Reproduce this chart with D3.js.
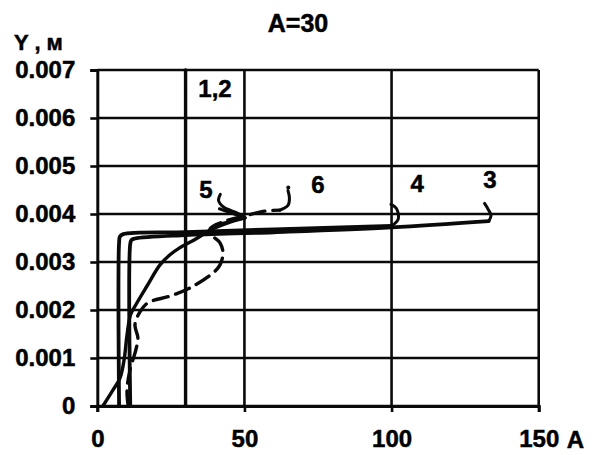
<!DOCTYPE html>
<html>
<head>
<meta charset="utf-8">
<script src="https://cdn.jsdelivr.net/npm/d3@7"></script>
<style>
  html, body { margin: 0; padding: 0; background: #fff; }
  svg { display: block; }
  text { font-family: "Liberation Sans", Arial, sans-serif; font-weight: bold; fill: #000; stroke: #000; stroke-width: 0.5px; }
</style>
</head>
<body>
<svg id="chart" width="597" height="455"></svg>
<script>
// Axis ticks
const xTicks = [0, 50, 100, 150];
const yTicks = [0, 0.001, 0.002, 0.003, 0.004, 0.005, 0.006, 0.007];

// Curves 1,2 (coincident vertical line at A = 30)
const curve12 = [[30, 0], [30, 0.007]];

// Curve 4: vertical rise, then nearly flat run to A ≈ 100
const curve4 = [[7.4, 0], [7.4, 0.0034], [7.7, 0.00353], [8.8, 0.00358], [30, 0.00362], [60, 0.00368], [100, 0.00375]];
// Curve 3: vertical rise, then nearly flat run to A ≈ 133
const curve3 = [[11.2, 0], [11.2, 0.00338], [11.6, 0.00346], [12.8, 0.00349], [30, 0.00356], [60, 0.00362], [100, 0.00372], [133, 0.00385]];

// Curve 5: smooth rise
const curve5 = [[1.9, 0], [5.3, 0.00033], [7.7, 0.00058], [9.1, 0.00096], [10.1, 0.00148], [11.3, 0.0019],
  [13.2, 0.00212], [16.9, 0.0025], [21.3, 0.00294], [24.7, 0.00315], [28.1, 0.0033], [33.2, 0.00347],
  [38.3, 0.00366], [45.1, 0.00383], [50.2, 0.00392]];

// Curve 6 (dashed)
const curve6 = [[10.5, 0], [10.1, 0.00033], [11.1, 0.00075], [13.1, 0.00117], [13.8, 0.00142], [12.8, 0.00169],
  [14.5, 0.00196], [17.2, 0.00215], [24.7, 0.00229], [31.5, 0.00246], [39.3, 0.00277], [41.7, 0.00294],
  [42.7, 0.00319], [41.7, 0.0034], [39.3, 0.00354], [38.3, 0.00369], [43.4, 0.00385], [50.2, 0.00396],
  [57, 0.00406], [62, 0.00408]];

// Hand-drawn leaders from curve ends to their numbers
const leader4 = [[100, 0.00375], [102.3, 0.0039], [101.6, 0.00412], [99.8, 0.0042]];
const leader3 = [[133, 0.00385], [133.8, 0.00397], [132.8, 0.0041], [131.6, 0.00422]];
const leader5 = [[50.2, 0.00392], [47.6, 0.00402], [43, 0.00414], [41.2, 0.00428], [41.8, 0.00441]];
const arrow5 = [[41.5, 0.00411], [50.2, 0.00392], [41.6, 0.00379]];
const leader6 = [[62, 0.00408], [64.8, 0.00418], [65.3, 0.00433], [64.8, 0.00449]];
const dot6 = [64.9, 0.00455];

// Curve labels: [text, A, Y]
const labels = [["1,2", 40, 0.00644], ["5", 36.9, 0.00433], ["6", 75, 0.00444], ["4", 108.7, 0.00446], ["3", 133.4, 0.00454]];

const svg = d3.select("#chart");
const W = 597, H = 455;
const margin = { left: 97.3, right: 58.3, top: 70, bottom: 49 };

const x = d3.scaleLinear().domain([0, 150]).range([margin.left, W - margin.right]);
const y = d3.scaleLinear().domain([0, 0.007]).range([H - margin.bottom, margin.top]);

const ink = "#0a0a0a";
const font = "'Liberation Sans', Arial, sans-serif";

// Grid
const grid = svg.append("g").attr("stroke", ink).attr("stroke-width", 2.6);
grid.selectAll("line.h").data(yTicks).join("line")
  .attr("x1", x(0)).attr("x2", x(150))
  .attr("y1", d => y(d)).attr("y2", d => y(d));
grid.selectAll("line.v").data(xTicks.filter(d => d > 0)).join("line")
  .attr("x1", d => x(d)).attr("x2", d => x(d))
  .attr("y1", y(0)).attr("y2", y(0.007));

// Axes
const yAxis = d3.axisLeft(y).tickValues(yTicks).tickSize(7).tickPadding(15)
  .tickFormat(d => d === 0 ? "0" : d.toFixed(3));
const gy = svg.append("g").attr("transform", `translate(${x(0)},0)`).call(yAxis);
gy.select(".domain").attr("stroke", ink).attr("stroke-width", 3);
gy.selectAll(".tick line").attr("stroke", ink).attr("stroke-width", 2.6);
gy.selectAll(".tick text").attr("font-size", 24).attr("font-weight", "bold")
  .attr("font-family", font).attr("fill", "#000").attr("dy", "0.30em");

const xAxis = d3.axisBottom(x).tickValues(xTicks).tickSize(6).tickPadding(18);
const gx = svg.append("g").attr("transform", `translate(0,${y(0)})`).call(xAxis);
gx.select(".domain").attr("stroke", ink).attr("stroke-width", 3);
gx.selectAll(".tick line").attr("stroke", ink).attr("stroke-width", 2.6);
gx.selectAll(".tick text").attr("font-size", 24).attr("font-weight", "bold")
  .attr("font-family", font).attr("fill", "#000");

// Axis titles
svg.append("text").attr("x", x(150) + 28).attr("y", 448).attr("font-size", 24).text("A");
svg.append("text").attr("x", 14).attr("y", 50).attr("font-size", 22).text("Y , м");
svg.append("text").attr("x", 298).attr("y", 32)
  .attr("text-anchor", "middle").attr("font-size", 25).text("A=30");

// Curves
const smooth = d3.line().x(d => x(d[0])).y(d => y(d[1])).curve(d3.curveCatmullRom.alpha(0.5));
const plain = d3.line().x(d => x(d[0])).y(d => y(d[1]));

const g = svg.append("g").attr("fill", "none").attr("stroke", ink)
  .attr("stroke-linecap", "round").attr("stroke-linejoin", "round");

g.append("path").attr("d", plain(curve12)).attr("stroke-width", 3.4);
g.append("path").attr("d", smooth(curve4)).attr("stroke-width", 3.8);
g.append("path").attr("d", smooth(curve3)).attr("stroke-width", 3.8);
g.append("path").attr("d", smooth(curve5)).attr("stroke-width", 3.4);
g.append("path").attr("d", smooth(curve6)).attr("stroke-width", 3.4).attr("stroke-dasharray", "15,8");

[leader4, leader3, leader5, leader6].forEach(L => {
  g.append("path").attr("d", smooth(L)).attr("stroke-width", 3);
});
g.append("path").attr("d", plain(arrow5)).attr("stroke-width", 3);
svg.append("circle").attr("cx", x(dot6[0])).attr("cy", y(dot6[1])).attr("r", 2).attr("fill", ink);

// Curve numbers
svg.append("g").selectAll("text").data(labels).join("text")
  .attr("x", d => x(d[1])).attr("y", d => y(d[2]))
  .attr("text-anchor", "middle").attr("font-size", 24)
  .text(d => d[0]);
</script>
</body>
</html>
